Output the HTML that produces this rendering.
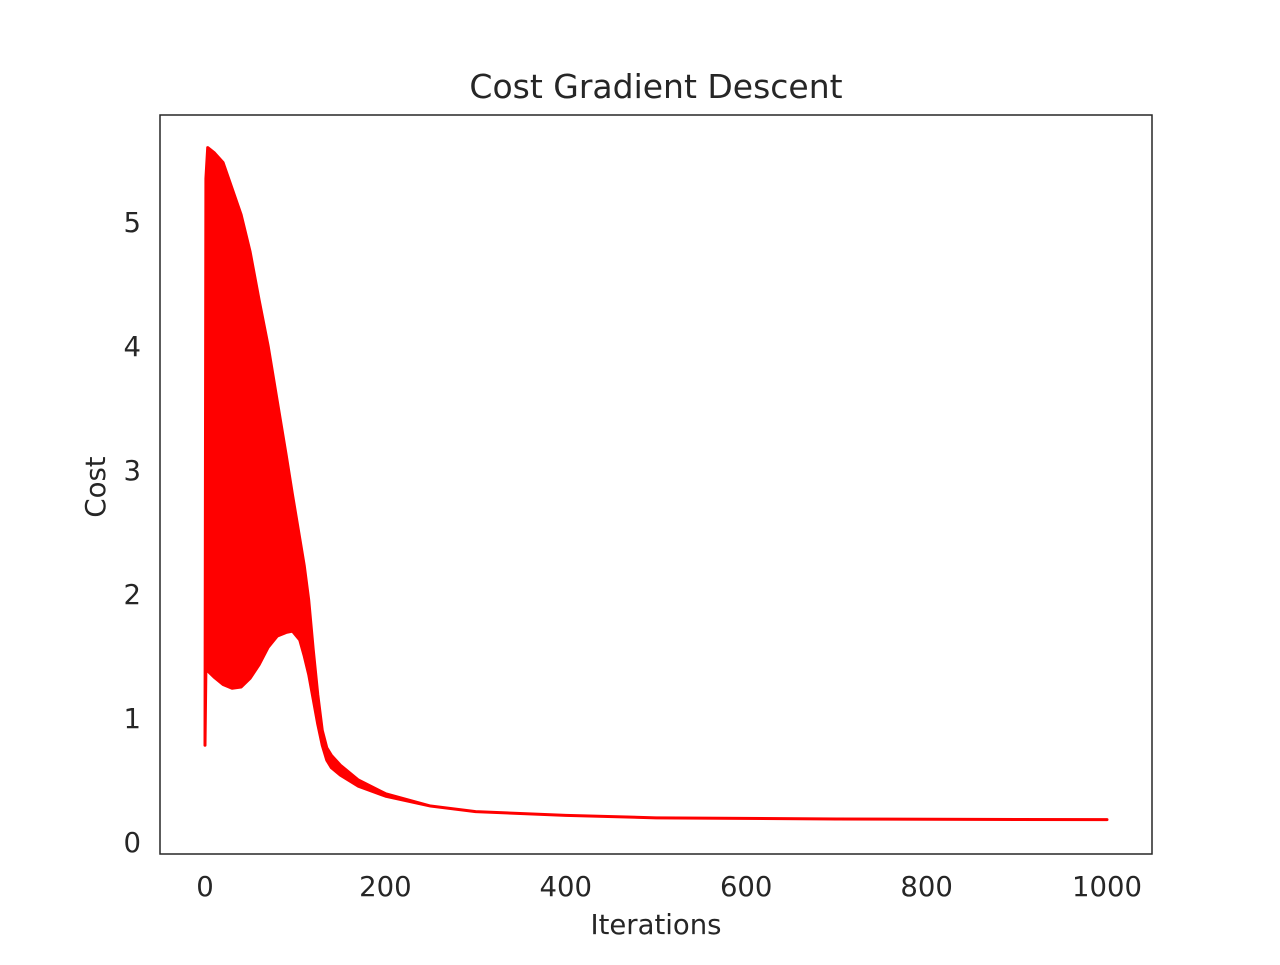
<!DOCTYPE html>
<html><head><meta charset="utf-8"><style>
body{margin:0;background:#fff;width:1280px;height:960px;overflow:hidden}
text{font-family:"DejaVu Sans","Liberation Sans",sans-serif;fill:#262626}
</style></head><body>
<svg id="chart" width="1280" height="960" xmlns="http://www.w3.org/2000/svg">
<text x="656" y="98" font-size="33" text-anchor="middle">Cost Gradient Descent</text>
<g id="marks"></g>
<rect x="160" y="115" width="992" height="739" fill="none" stroke="#262626" stroke-width="1.5"/>
<g id="xticks"></g><g id="yticks"></g>
<text x="656" y="934" font-size="27.5" text-anchor="middle">Iterations</text>
<text x="105" y="487" font-size="27.5" text-anchor="middle" transform="rotate(-90 105 487)">Cost</text>
</svg>
<script>
const iterations=[0,1,3,10,20,30,40,50,60,70,80,90,97,105,110,115,120,125,130,135,140,150,170,200,250,300,400,500,700,1000];
const upperCost=[0.78,5.35,5.6,5.56,5.48,5.27,5.06,4.76,4.37,4.0,3.56,3.12,2.8,2.45,2.23,1.95,1.55,1.19,0.9,0.76,0.7,0.62,0.5,0.39,0.29,0.245,0.215,0.195,0.185,0.18];
const lowerCost=[0.78,1.4,1.38,1.33,1.27,1.24,1.25,1.32,1.43,1.57,1.66,1.69,1.70,1.63,1.5,1.35,1.15,0.95,0.78,0.66,0.6,0.54,0.45,0.37,0.29,0.245,0.215,0.195,0.185,0.18];
const xTickVals=[0,200,400,600,800,1000];
const yTickVals=[0,1,2,3,4,5];
const NS="http://www.w3.org/2000/svg";
const xs=v=>205+v*0.902;
const ys=v=>842-v*124;
const marks=document.getElementById('marks');
let pts=iterations.map((it,i)=>xs(it)+','+ys(upperCost[i]));
for(let i=iterations.length-1;i>=0;i--)pts.push(xs(iterations[i])+','+ys(lowerCost[i]));
const poly=document.createElementNS(NS,'polygon');
poly.setAttribute('points',pts.join(' '));
poly.setAttribute('fill','#ff0000');poly.setAttribute('stroke','#ff0000');
poly.setAttribute('stroke-width','3');poly.setAttribute('stroke-linejoin','round');


marks.appendChild(poly);
const xt=document.getElementById('xticks');
xTickVals.forEach(v=>{const t=document.createElementNS(NS,'text');
t.setAttribute('x',xs(v));t.setAttribute('y',896);t.setAttribute('font-size','27.5');t.setAttribute('text-anchor','middle');
t.textContent=v;


xt.appendChild(t);});
const yt=document.getElementById('yticks');
yTickVals.forEach(v=>{const t=document.createElementNS(NS,'text');
t.setAttribute('x',141);t.setAttribute('y',ys(v)+10);t.setAttribute('font-size','27.5');t.setAttribute('text-anchor','end');
t.textContent=v;


yt.appendChild(t);});
</script>
</body></html>
